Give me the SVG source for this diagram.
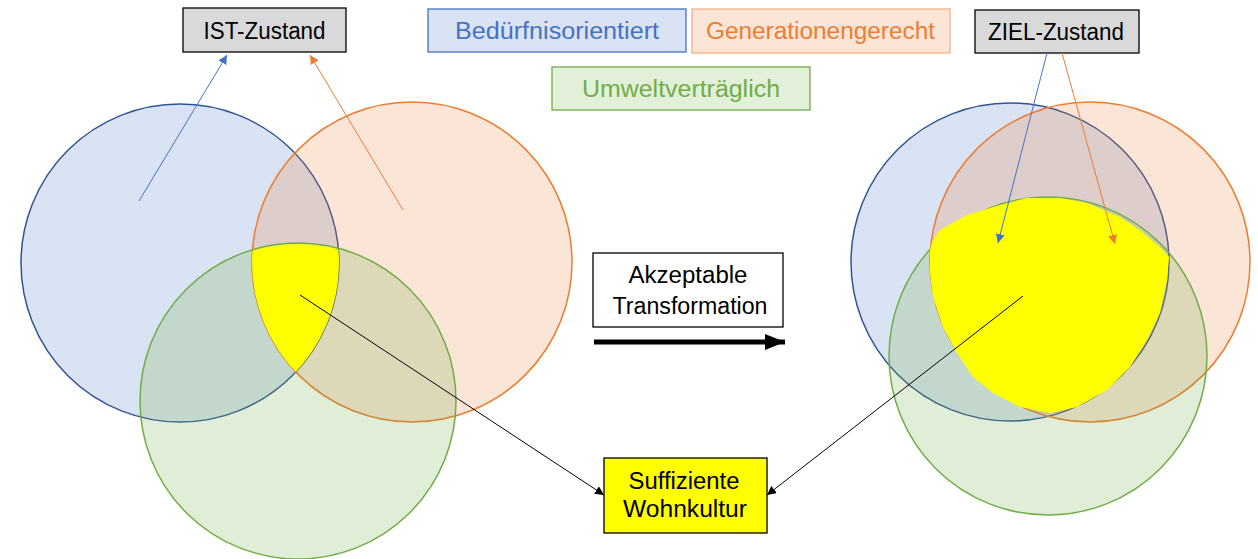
<svg xmlns="http://www.w3.org/2000/svg" width="1258" height="559" viewBox="0 0 1258 559">
<style>
text{font-family:"Liberation Sans",Arial,sans-serif;font-size:23px;text-anchor:middle}
.cb{fill:#4472c4;fill-opacity:0.2;stroke:#2f5597;stroke-width:1.5}
.co{fill:#ed7d31;fill-opacity:0.2;stroke:#ed7d31;stroke-width:1.5}
.cg{fill:#70ad47;fill-opacity:0.22;stroke:#70ad47;stroke-width:1.5}
.gray{fill:#d9d9d9;stroke:#000;stroke-width:1.3}
.thin{fill:none;stroke-width:1}
</style>
<defs>
<marker id="mb" viewBox="0 0 10 10" refX="10" refY="5" markerWidth="9" markerHeight="9" markerUnits="userSpaceOnUse" orient="auto"><path d="M0,0L10,5L0,10z" fill="#4472c4"/></marker>
<marker id="mo" viewBox="0 0 10 10" refX="10" refY="5" markerWidth="9" markerHeight="9" markerUnits="userSpaceOnUse" orient="auto"><path d="M0,0L10,5L0,10z" fill="#ed7d31"/></marker>
<marker id="mk" viewBox="0 0 10 10" refX="10" refY="5" markerWidth="9" markerHeight="9" markerUnits="userSpaceOnUse" orient="auto"><path d="M0,0L10,5L0,10z" fill="#000"/></marker>
<marker id="mbig" viewBox="0 0 10 10" refX="10" refY="5" markerWidth="20" markerHeight="16" markerUnits="userSpaceOnUse" orient="auto" preserveAspectRatio="none"><path d="M0,0L10,5L0,10z" fill="#000"/></marker>
<clipPath id="clB"><circle cx="180" cy="263" r="159"/></clipPath>
<clipPath id="clO"><circle cx="412" cy="262" r="160"/></clipPath>
</defs>

<g id="venn-ist">
<circle class="cb" cx="180" cy="263" r="159"/>
<circle class="co" cx="412" cy="262" r="160"/>
<circle class="cg" cx="298" cy="401" r="158"/>
<g clip-path="url(#clB)"><g clip-path="url(#clO)"><circle cx="298" cy="401" r="157" fill="#ffff00"/></g></g>
</g>

<g id="venn-ziel">
<circle class="cb" cx="1010" cy="262" r="159"/>
<circle class="co" cx="1090" cy="262" r="160"/>
<circle class="cg" cx="1048" cy="356" r="159"/>
<path d="M933,240 L940,230 L967,215 L1000,205 L1027,198 L1060,198 L1087,203 L1120,217 L1140,230 L1160,247 L1169,257 L1167,280 L1160,313 L1147,340 L1130,367 L1107,390 L1077,407 L1050,413 L1020,407 L993,393 L973,377 L957,353 L943,327 L933,297 L930,273 L930,250 Z" fill="#ffff00"/>
</g>

<g id="ist-zustand">
<rect class="gray" x="183" y="8" width="163" height="44"/>
<text x="264.5" y="39" textLength="122" lengthAdjust="spacingAndGlyphs">IST-Zustand</text>
</g>
<g id="beduerfnisorientiert">
<rect x="428" y="9" width="258" height="43" fill="#dae3f3" stroke="#4472c4" stroke-width="1.3"/>
<text x="557" y="39" fill="#4472c4" textLength="204" lengthAdjust="spacingAndGlyphs">Bedürfnisorientiert</text>
</g>
<g id="generationengerecht">
<rect x="692" y="9" width="258" height="44" fill="#fbe5d6" stroke="#f4b183" stroke-width="1.3"/>
<text x="820.5" y="39" fill="#ed7d31" textLength="229" lengthAdjust="spacingAndGlyphs">Generationengerecht</text>
</g>
<g id="ziel-zustand">
<rect class="gray" x="975" y="10" width="164" height="43"/>
<text x="1056" y="40" textLength="136" lengthAdjust="spacingAndGlyphs">ZIEL-Zustand</text>
</g>
<g id="umweltvertraeglich">
<rect x="552" y="67" width="258" height="43" fill="#e2f0d9" stroke="#70ad47" stroke-width="1.3"/>
<text x="681" y="97" fill="#70ad47" textLength="198" lengthAdjust="spacingAndGlyphs">Umweltverträglich</text>
</g>
<g id="transformation">
<rect x="593" y="253" width="190" height="74" fill="#fff" stroke="#000" stroke-width="1.3"/>
<text x="688" y="283" textLength="119" lengthAdjust="spacingAndGlyphs">Akzeptable</text>
<text x="690" y="314" textLength="155" lengthAdjust="spacingAndGlyphs">Transformation</text>
</g>
<g id="suffiziente-wohnkultur">
<rect x="604" y="458" width="163" height="75" fill="#ffff00" stroke="#000" stroke-width="1.3"/>
<text x="684" y="489" textLength="111" lengthAdjust="spacingAndGlyphs">Suffiziente</text>
<text x="685" y="517" textLength="124" lengthAdjust="spacingAndGlyphs">Wohnkultur</text>
</g>

<g id="connectors">
<line class="thin" x1="139" y1="201" x2="227" y2="55" stroke="#4472c4" marker-end="url(#mb)"/>
<line class="thin" x1="403" y1="210" x2="310" y2="55" stroke="#ed7d31" marker-end="url(#mo)"/>
<line class="thin" x1="1047" y1="53" x2="998" y2="243" stroke="#4472c4" marker-end="url(#mb)"/>
<line class="thin" x1="1062" y1="53" x2="1115" y2="244" stroke="#ed7d31" marker-end="url(#mo)"/>
<line class="thin" x1="300" y1="295" x2="604" y2="495" stroke="#000" marker-end="url(#mk)"/>
<line class="thin" x1="1023" y1="296" x2="767" y2="495" stroke="#000" marker-end="url(#mk)"/>
<line x1="594" y1="342" x2="785" y2="342" stroke="#000" stroke-width="5" marker-end="url(#mbig)"/>
</g>
</svg>
